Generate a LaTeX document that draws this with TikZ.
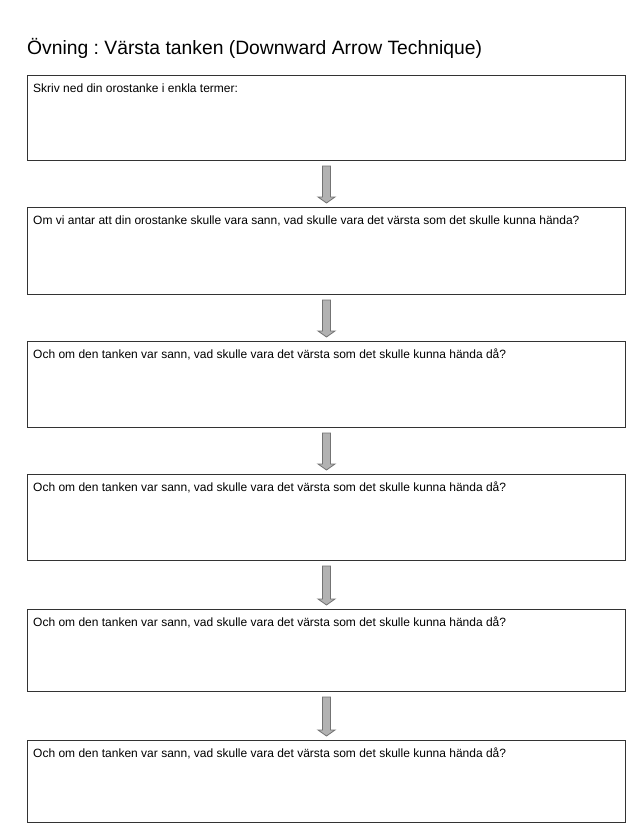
\documentclass[tikz,border=0pt]{standalone}
\usepackage{fontspec}
\setmainfont{Liberation Sans}
\frenchspacing
\usetikzlibrary{calc}
\tikzset{
  box/.style={draw=black!80, line width=1pt, minimum width=598pt, inner sep=0pt, anchor=north west},
  boxtext/.style={anchor=base west, inner sep=0pt, font=\fontsize{12}{14}\selectfont},
  blockarrow/.style={fill=black!30, draw=black!55, line width=0.8pt, line join=miter}
}
\newcommand\blkarrow[2]{%
  \draw[blockarrow] let \p1=(#1.south), \p2=(#2.north) in
    (\x1-4pt,\y1-5pt) -- (\x1+4pt,\y1-5pt) -- (\x1+4pt,\y2+10pt) -- (\x1+8.5pt,\y2+10pt)
    -- (\x1,\y2+4pt) -- (\x1-8.5pt,\y2+10pt) -- (\x1-4pt,\y2+10pt) -- cycle;}
\begin{document}
\begin{tikzpicture}[x=1pt,y=1pt]
\useasboundingbox[fill=white] (0,0) rectangle (636,-828);
\node[anchor=base west, inner sep=0pt, font=\fontsize{19.3}{23}\selectfont] (title) at (27,-54) {Övning : Värsta tanken (Downward Arrow Technique)};
\node[box, minimum height=85pt] (b1) at (27,-75) {};
\node[box, minimum height=87pt] (b2) at (27,-207) {};
\node[box, minimum height=86pt] (b3) at (27,-341) {};
\node[box, minimum height=86pt] (b4) at (27,-474) {};
\node[box, minimum height=82pt] (b5) at (27,-609) {};
\node[box, minimum height=82pt] (b6) at (27,-740) {};
\node[boxtext] (t1) at ($(b1.north west)+(6,-17)$) {Skriv ned din orostanke i enkla termer:};
\node[boxtext] (t2) at ($(b2.north west)+(6,-17)$) {Om vi antar att din orostanke skulle vara sann, vad skulle vara det värsta som det skulle kunna hända?};
\node[boxtext] (t3) at ($(b3.north west)+(6,-17)$) {Och om den tanken var sann, vad skulle vara det värsta som det skulle kunna hända då?};
\node[boxtext] (t4) at ($(b4.north west)+(6,-17)$) {Och om den tanken var sann, vad skulle vara det värsta som det skulle kunna hända då?};
\node[boxtext] (t5) at ($(b5.north west)+(6,-17)$) {Och om den tanken var sann, vad skulle vara det värsta som det skulle kunna hända då?};
\node[boxtext] (t6) at ($(b6.north west)+(6,-17)$) {Och om den tanken var sann, vad skulle vara det värsta som det skulle kunna hända då?};
\blkarrow{b1}{b2}
\blkarrow{b2}{b3}
\blkarrow{b3}{b4}
\blkarrow{b4}{b5}
\blkarrow{b5}{b6}
\end{tikzpicture}
\end{document}
